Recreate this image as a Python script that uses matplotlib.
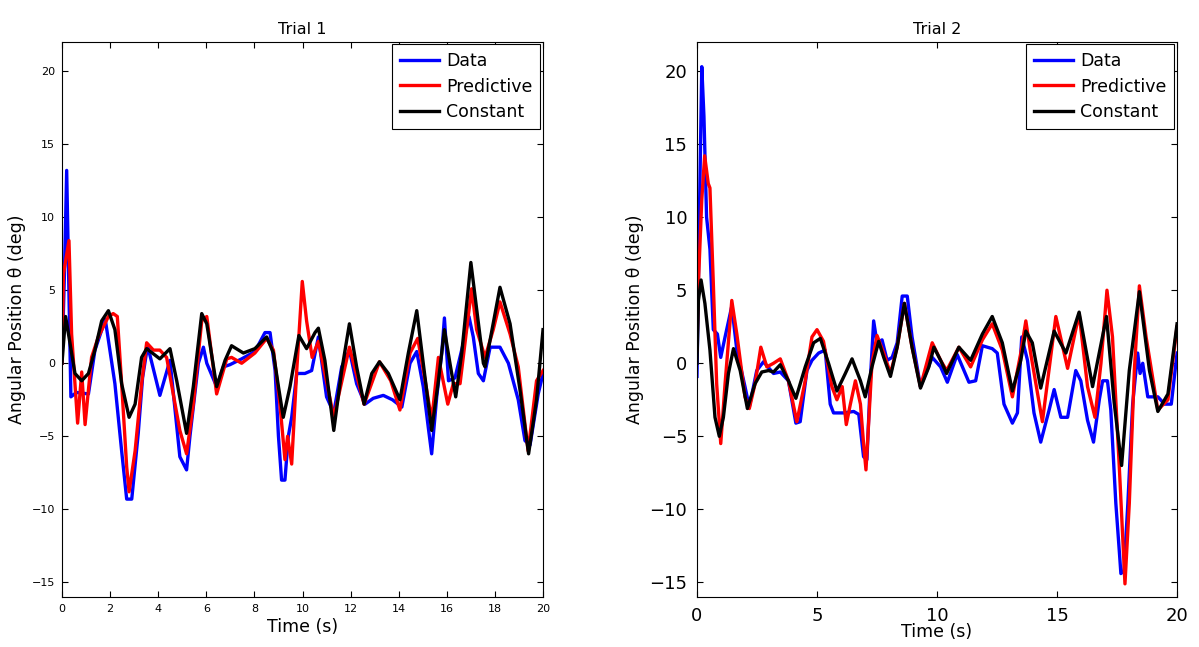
import matplotlib
matplotlib.use("Agg")
import matplotlib.pyplot as plt
import numpy as np

# ---- Trial 1 ----
t1_data = [0.0, 0.1, 0.195, 0.37, 0.6, 1.1, 1.37, 1.8, 2.2, 2.48, 2.69, 2.9, 3.17, 3.35, 3.56,
           4.07, 4.49, 4.9, 5.18, 5.32, 5.67, 5.88, 6.02, 6.43, 6.71, 6.98, 7.47, 8.02, 8.44,
           8.65, 8.86, 9.0, 9.13, 9.27, 9.41, 9.55, 9.76, 10.1, 10.38, 10.66, 11.0, 11.3, 11.63,
           11.95, 12.25, 12.6, 12.94, 13.36, 13.74, 14.13, 14.47, 14.75, 15.02, 15.23, 15.37,
           15.58, 15.79, 15.9, 16.07, 16.34, 16.69, 16.92, 17.1, 17.31, 17.52, 17.8, 18.21,
           18.56, 18.97, 19.25, 19.46, 19.8, 20.0]
v1_data = [0.0, 6.0, 13.2, -2.3, -2.0, -2.1, 0.9, 3.0, -1.4, -6.0, -9.3, -9.3, -4.8, -1.0, 1.2,
           -2.2, 0.2, -6.4, -7.3, -5.0, 0.0, 1.1, 0.0, -1.6, -0.25, -0.1, 0.3, 0.8, 2.1,
           2.1, -0.5, -5.0, -8.0, -8.0, -5.0, -3.7, -0.7, -0.7, -0.5, 1.8, -2.3, -3.4, -0.25,
           0.9, -1.4, -2.8, -2.4, -2.2, -2.5, -3.0, 0.0, 0.8, -1.6, -4.4, -6.2,
           -2.3, 0.7, 3.1, -1.2, -1.0, 1.4, 3.2, 1.8, -0.7, -1.2, 1.1, 1.1,
           0.0, -2.5, -5.3, -5.6, -2.1, -0.7]

t1_pred = [0.0, 0.06, 0.15, 0.29, 0.4, 0.65, 0.82, 0.96, 1.23, 1.51, 1.93, 2.13, 2.3, 2.48,
           2.69, 2.79, 3.04, 3.31, 3.52, 3.8, 4.07, 4.35, 4.9, 5.18, 5.46, 5.81, 6.02, 6.43,
           6.85, 7.05, 7.47, 8.02, 8.51, 8.79, 9.06, 9.27, 9.38, 9.55, 9.76, 9.99, 10.17, 10.4,
           10.66, 11.3, 11.95, 12.56, 13.2, 13.67, 14.05, 14.47, 14.79, 15.1, 15.37, 15.65,
           16.04, 16.27, 16.55, 17.03, 17.24, 17.59, 17.93, 18.21, 18.63, 18.97, 19.38,
           19.73, 20.0]
v1_pred = [0.0, 6.1, 7.0, 8.4, 2.0, -4.1, -0.6, -4.2, 0.4, 1.8, 3.2, 3.4, 3.2, -1.4,
           -7.1, -8.8, -6.0, -1.4, 1.4, 0.9, 0.9, 0.4, -4.6, -6.2, -2.8, 2.9, 3.2, -2.1,
           0.3, 0.4, 0.0, 0.7, 1.7, 0.9, -2.8, -6.6, -5.0, -6.9, -0.5, 5.6, 2.9, 0.4,
           1.5, -3.7, 1.1, -2.8, 0.1, -1.2, -3.2, 0.7, 1.7, -1.2, -3.9, 0.4,
           -2.8, -1.4, -1.4, 5.1, 2.3, 0.4, 2.3, 4.2, 2.0, -0.25, -6.0,
           -1.2, -0.5]

t1_const = [0.0, 0.15, 0.33, 0.54, 0.82, 1.1, 1.37, 1.65, 1.93, 2.2, 2.48, 2.79, 3.04, 3.31,
            3.52, 4.07, 4.49, 4.77, 5.18, 5.46, 5.81, 6.02, 6.43, 6.78, 7.05, 7.54, 8.02,
            8.51, 8.79, 9.0, 9.2, 9.48, 9.85, 10.17, 10.52, 10.66, 10.93, 11.3, 11.63, 11.95,
            12.25, 12.56, 12.88, 13.2, 13.57, 14.05, 14.4, 14.75, 15.02, 15.37, 15.65, 15.9,
            16.13, 16.37, 16.62, 17.0, 17.52, 17.59, 18.21, 18.63, 19.04, 19.4, 19.73, 20.0]
v1_const = [0.0, 3.2, 1.4, -0.7, -1.2, -0.7, 0.9, 2.9, 3.6, 2.3, -1.4, -3.7, -2.8, 0.4,
            1.0, 0.3, 1.0, -1.2, -4.8, -1.6, 3.4, 2.7, -1.6, 0.2, 1.2, 0.7, 1.0,
            1.8, 0.7, -1.6, -3.7, -1.6, 1.9, 1.0, 2.1, 2.4, 0.2, -4.6, -0.5, 2.7,
            -0.25, -2.8, -0.7, 0.1, -0.7, -2.5, 0.7, 3.6, 0.0, -4.6, -1.2, 2.3,
            0.0, -2.3, 0.7, 6.9, 0.0, -0.25, 5.2, 2.7, -1.8, -6.2, -2.5, 2.3]

# ---- Trial 2 ----
t2_data = [0.0, 0.1, 0.2, 0.29, 0.4, 0.54, 0.68, 0.85, 0.99, 1.17, 1.45, 1.66, 2.0, 2.18,
           2.49, 2.77, 3.19, 3.47, 3.81, 4.12, 4.3, 4.58, 4.79, 5.07, 5.34, 5.55, 5.69,
           6.11, 6.53, 6.74, 6.94, 7.08, 7.22, 7.36, 7.5, 7.71, 7.92, 8.13, 8.34, 8.55,
           8.76, 8.96, 9.31, 9.8, 10.15, 10.43, 10.84, 11.33, 11.61, 11.89, 12.3, 12.51,
           12.79, 13.14, 13.35, 13.53, 13.77, 14.04, 14.32, 14.67, 14.88, 15.16, 15.44,
           15.78, 15.99, 16.27, 16.52, 16.76, 16.9, 17.1, 17.24, 17.45, 17.6, 17.66, 17.79,
           17.95, 18.15, 18.36, 18.46, 18.57, 18.78, 19.2, 19.48, 19.76, 20.0]
v2_data = [-0.9, 10.0, 20.3, 16.9, 10.0, 7.8, 2.3, 2.0, 0.4, 1.8, 3.9, 0.9, -1.6, -3.0,
           -0.5, 0.1, -0.7, -0.6, -1.2, -4.1, -4.0, -0.5, 0.2, 0.7, 0.9, -2.8, -3.4,
           -3.4, -3.3, -3.5, -6.4, -6.6, -1.2, 2.9, 1.4, 1.6, 0.2, 0.4, 1.4, 4.6,
           4.6, 1.8, -1.6, 0.4, -0.25, -1.3, 0.6, -1.3, -1.2, 1.2, 1.0, 0.7,
           -2.8, -4.1, -3.4, 1.8, 0.2, -3.4, -5.4, -3.2, -1.8, -3.7, -3.7,
           -0.5, -1.2, -3.9, -5.4, -2.5, -1.2, -1.2, -3.2, -9.6, -13.0, -14.4, -14.2,
           -9.6, -2.8, 0.7, -0.7, 0.0, -2.3, -2.3, -2.8, -2.8, 0.7]

t2_pred = [0.0, 0.06, 0.2, 0.32, 0.47, 0.54, 0.68, 0.82, 0.99, 1.17, 1.45, 1.66, 2.0, 2.18,
           2.42, 2.66, 2.91, 3.19, 3.47, 3.81, 4.16, 4.51, 4.79, 5.0, 5.27, 5.62, 5.83,
           6.05, 6.22, 6.39, 6.6, 6.81, 6.94, 7.04, 7.12, 7.29, 7.5, 7.78, 8.06, 8.34,
           8.64, 8.96, 9.31, 9.8, 10.15, 10.4, 10.91, 11.4, 11.89, 12.3, 12.72, 13.14,
           13.49, 13.7, 13.9, 14.39, 14.95, 15.44, 15.92, 16.27, 16.58, 16.83, 17.08,
           17.31, 17.6, 17.83, 18.01, 18.22, 18.43, 18.71, 19.2, 19.62, 20.0]
v2_pred = [0.9, 5.5, 11.2, 14.2, 12.3, 12.0, 5.5, -1.4, -5.5, -1.4, 4.3, 2.0, -2.3, -3.1,
           -1.4, 1.1, -0.25, 0.0, 0.3, -1.2, -4.0, -1.2, 1.8, 2.3, 1.5, -1.6, -2.5,
           -1.6, -4.2, -2.8, -1.2, -2.8, -5.5, -7.3, -5.0, 0.0, 1.9, 0.7, -0.7, 1.1,
           4.1, 1.1, -1.6, 1.4, 0.2, -0.5, 1.1, -0.25, 1.6, 2.7, 0.9, -2.3,
           0.7, 2.9, 0.7, -4.0, 3.2, -0.35, 3.4, -1.6, -3.7, 0.0, 5.0,
           1.8, -7.3, -15.1, -9.6, -0.5, 5.3, 1.8, -3.2, -2.5, 2.5]

t2_const = [0.0, 0.06, 0.17, 0.33, 0.54, 0.75, 0.93, 1.1, 1.31, 1.52, 1.8, 2.1, 2.42, 2.7,
            2.98, 3.19, 3.47, 3.81, 4.12, 4.51, 4.86, 5.14, 5.48, 5.83, 6.18, 6.46, 6.81,
            7.01, 7.29, 7.57, 7.78, 8.06, 8.34, 8.64, 8.96, 9.31, 9.66, 9.87, 10.15, 10.4,
            10.91, 11.4, 11.89, 12.3, 12.72, 13.14, 13.49, 13.7, 13.97, 14.32, 14.88, 15.37,
            15.92, 16.48, 17.06, 17.38, 17.69, 18.01, 18.43, 18.85, 19.2, 19.62, 20.0]
v2_const = [0.0, 4.3, 5.7, 4.1, 0.9, -3.7, -5.0, -3.7, -0.7, 1.0, -0.5, -3.1, -1.4, -0.6,
            -0.5, -0.6, -0.1, -1.2, -2.4, -0.25, 1.4, 1.7, 0.0, -1.9, -0.7, 0.3, -1.2,
            -2.3, -0.25, 1.5, 0.4, -0.9, 1.1, 4.1, 1.1, -1.7, -0.25, 1.1, 0.2, -0.7,
            1.1, 0.2, 2.0, 3.2, 1.4, -1.9, 0.2, 2.2, 1.4, -1.7, 2.2, 0.7,
            3.5, -1.6, 3.2, -2.7, -7.0, -0.5, 4.9, -0.5, -3.3, -2.1, 2.7]

titles = ["Trial 1", "Trial 2"]
series_labels = ["Data", "Predictive", "Constant"]
series_colors = ["#0000ff", "#ff0000", "#000000"]

fig = plt.figure(figsize=(11.99, 6.47), dpi=100)
ax1 = fig.add_axes([0.0517, 0.0773, 0.4012, 0.8580])
ax2 = fig.add_axes([0.5813, 0.0773, 0.4004, 0.8580])

trials = [
    (ax1, [(t1_data, v1_data), (t1_pred, v1_pred), (t1_const, v1_const)]),
    (ax2, [(t2_data, v2_data), (t2_pred, v2_pred), (t2_const, v2_const)]),
]

for i, (ax, curves) in enumerate(trials):
    for (tt, vv), lab, col in zip(curves, series_labels, series_colors):
        ax.plot(tt, vv, color=col, lw=2.4, label=lab, solid_joinstyle="round")
    ax.set_xlim(0, 20)
    ax.set_ylim(-16, 22)
    ax.set_yticks(np.arange(-15, 21, 5))
    ax.set_title(titles[i], fontsize=11.5)
    ax.set_xlabel("Time (s)", fontsize=12.5)
    ax.set_ylabel("Angular Position θ (deg)", fontsize=12.5)
    ax.tick_params(direction="in", top=True, right=True, length=4)
    for s in ax.spines.values():
        s.set_linewidth(0.8)
    leg = ax.legend(loc="upper right", fontsize=12.5, fancybox=False, edgecolor="black",
                    framealpha=1, borderaxespad=0.15, handlelength=2.25, labelspacing=0.42,
                    handletextpad=0.4, borderpad=0.45)
    leg.get_frame().set_linewidth(0.8)

ax1.set_xticks(np.arange(0, 21, 2))
ax1.tick_params(labelsize=8, pad=5)
ax1.xaxis.labelpad = 3
ax2.set_xticks(np.arange(0, 21, 5))
ax2.tick_params(labelsize=13, pad=7)
ax2.xaxis.labelpad = -1

fig.savefig("out.png", dpi=100)
